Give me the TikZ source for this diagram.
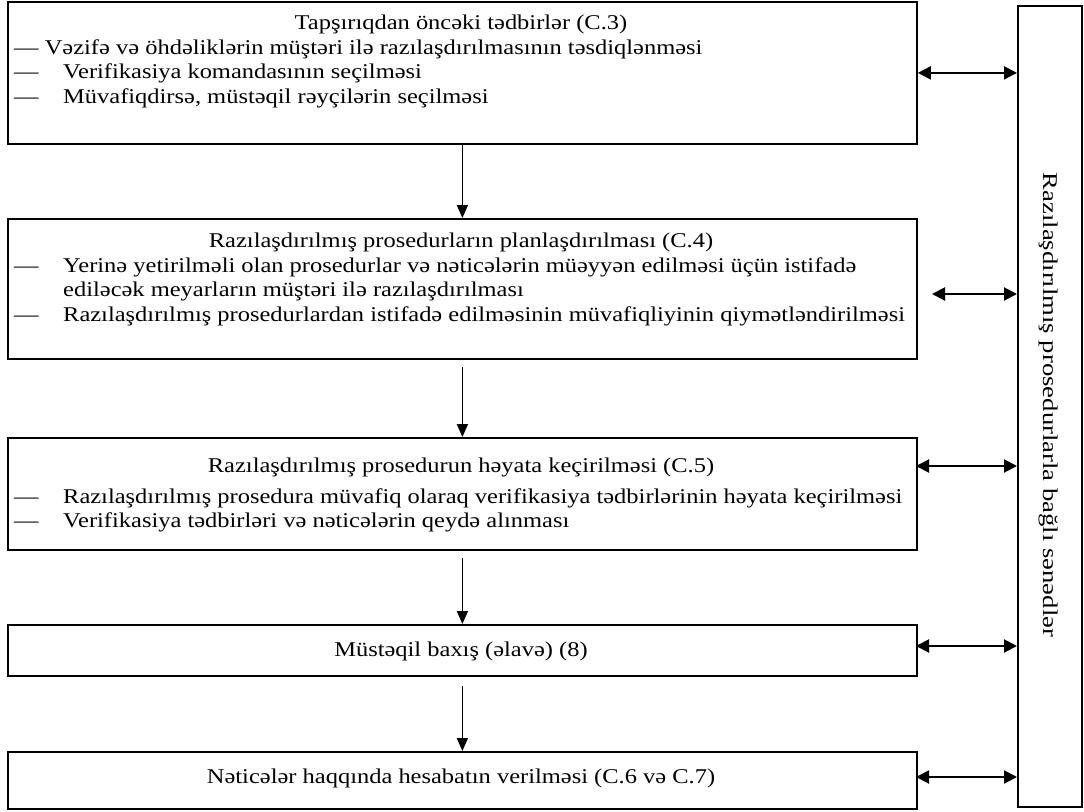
\documentclass[tikz,border=0pt]{standalone}
\usepackage{fontspec}
\setmainfont{Liberation Serif}[FakeStretch=1.165]
\newfontfamily\sidefont{Liberation Serif}[FakeStretch=1.27]
\usetikzlibrary{arrows.meta,calc}
\begin{document}
\begin{tikzpicture}[x=1pt,y=-1pt,
  box/.style={draw,line width=1.8pt,inner sep=0pt,anchor=north west,minimum width=909pt},
  txt/.style={inner sep=0pt,anchor=base west,font=\fontsize{21}{25}\selectfont},
  ttl/.style={inner sep=0pt,anchor=base,font=\fontsize{21}{25}\selectfont},
  flow/.style={line width=1.8pt,-{Triangle[length=13pt,width=11pt]}},
  link/.style={line width=2pt,{Triangle[length=13pt,width=13pt]}-{Triangle[length=13pt,width=13pt]}}]
\useasboundingbox (0,0) rectangle (1084,811);

% process boxes
\node[box,minimum height=142pt] (b1) at (7,1) {};
\node[box,minimum height=140pt] (b2) at (7,218) {};
\node[box,minimum height=112pt] (b3) at (7,437) {};
\node[box,minimum height=51pt]  (b4) at (7,624) {};
\node[box,minimum height=57pt]  (b5) at (7,751) {};

% documentation column
\node[draw,line width=1.8pt,anchor=north west,minimum width=64pt,minimum height=801pt,inner sep=0pt] (docs) at (1017,5) {};
\node[rotate=-90,inner sep=0pt,font=\sidefont\fontsize{21}{25}\selectfont] (doct) at (1049,405) {Razılaşdırılmış prosedurlarla bağlı sənədlər};

% box 1
\node[ttl] (t1) at (461,29) {Tapşırıqdan öncəki tədbirlər (C.3)};
\node[txt] (t1a) at (14,54) {— Vəzifə və öhdəliklərin müştəri ilə razılaşdırılmasının təsdiqlənməsi};
\node[txt] (t1bd) at (14,78) {—};
\node[txt] (t1b) at (63,78) {Verifikasiya komandasının seçilməsi};
\node[txt] (t1cd) at (14,103) {—};
\node[txt] (t1c) at (63,103) {Müvafiqdirsə, müstəqil rəyçilərin seçilməsi};

% box 2
\node[ttl] (t2) at (461,247) {Razılaşdırılmış prosedurların planlaşdırılması (C.4)};
\node[txt] (t2ad) at (14,272) {—};
\node[txt] (t2a) at (63,272) {Yerinə yetirilməli olan prosedurlar və nəticələrin müəyyən edilməsi üçün istifadə};
\node[txt] (t2a2) at (63,296) {ediləcək meyarların müştəri ilə razılaşdırılması};
\node[txt] (t2bd) at (14,321) {—};
\node[txt] (t2b) at (63,321) {Razılaşdırılmış prosedurlardan istifadə edilməsinin müvafiqliyinin qiymətləndirilməsi};

% box 3
\node[ttl] (t3) at (461,472) {Razılaşdırılmış prosedurun həyata keçirilməsi (C.5)};
\node[txt] (t3ad) at (14,503) {—};
\node[txt] (t3a) at (63,503) {Razılaşdırılmış prosedura müvafiq olaraq verifikasiya tədbirlərinin həyata keçirilməsi};
\node[txt] (t3bd) at (14,527) {—};
\node[txt] (t3b) at (63,527) {Verifikasiya tədbirləri və nəticələrin qeydə alınması};

% box 4 and box 5
\node[ttl] (t4) at (461,656) {Müstəqil baxış (əlavə) (8)};
\node[ttl] (t5) at (461,783) {Nəticələr haqqında hesabatın verilməsi (C.6 və C.7)};

% vertical flow
\draw[flow] (b1.south) -- (b2.north);
\draw[flow] ($(b2.south)+(0,7)$) -- (b3.north);
\draw[flow] ($(b3.south)+(0,7)$) -- (b4.north);
\draw[flow] ($(b4.south)+(0,9)$) -- (b5.north);

% links to documentation
\coordinate (l1) at (b1.east);
\coordinate (l2) at (932,294);
\coordinate (l3) at (916,466);
\coordinate (l4) at (916,646);
\coordinate (l5) at (916,777);
\draw[link] (l1) -- (l1 -| docs.west);
\draw[link] (l2) -- (l2 -| docs.west);
\draw[link] (l3) -- (l3 -| docs.west);
\draw[link] (l4) -- (l4 -| docs.west);
\draw[link] (l5) -- (l5 -| docs.west);
\end{tikzpicture}
\end{document}
